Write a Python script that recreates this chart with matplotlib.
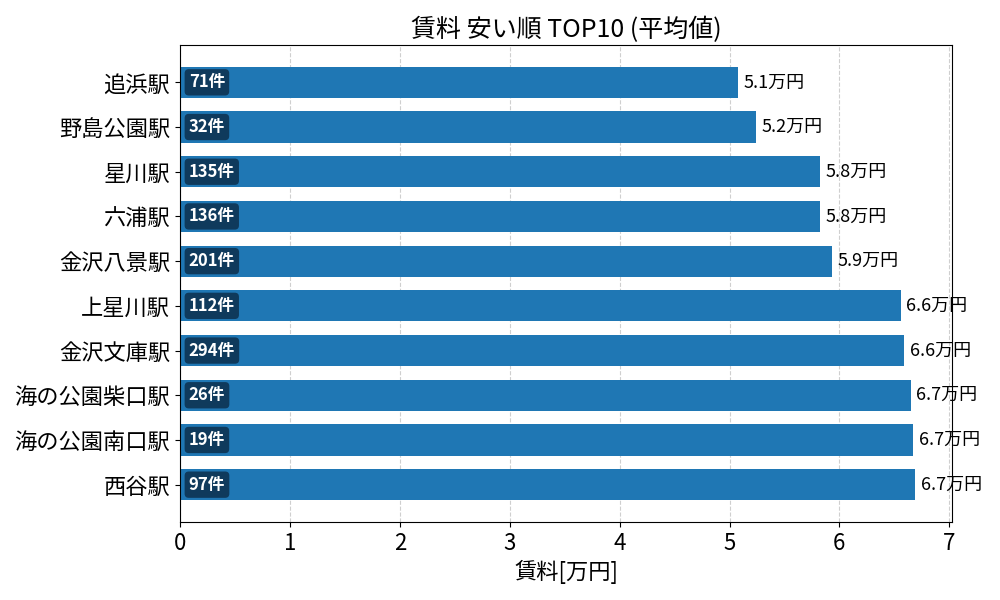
import numpy as np
import matplotlib.pyplot as plt

plt.rcParams['font.family'] = ['Noto Sans CJK JP', 'DejaVu Sans']

stations = ['追浜駅', '野島公園駅', '星川駅', '六浦駅', '金沢八景駅',
            '上星川駅', '金沢文庫駅', '海の公園柴口駅', '海の公園南口駅', '西谷駅']
rent = [5.08, 5.24, 5.82, 5.82, 5.93, 6.56, 6.59, 6.65, 6.67, 6.69]
counts = [71, 32, 135, 136, 201, 112, 294, 26, 19, 97]

fig, ax = plt.subplots(figsize=(10, 6), dpi=100)
y = np.arange(len(stations))
ax.barh(y, rent, height=0.7, color='#1f77b4', zorder=2)
ax.set_yticks(y)
ax.set_yticklabels(stations, fontsize=16)
ax.invert_yaxis()
ax.set_xlim(0, max(rent) * 1.05)
ax.tick_params(axis='x', labelsize=16)
ax.grid(axis='x', linestyle='--', alpha=0.6, zorder=0)

for i, (v, c) in enumerate(zip(rent, counts)):
    ax.text(v + 0.05, i, f'{v:.1f}万円', va='center', ha='left', fontsize=13)
    ax.text(0.08, i, f'{c}件', va='center', ha='left', fontsize=12,
            fontweight='bold', color='white', zorder=3,
            bbox=dict(boxstyle='round,pad=0.25', fc='#0f3a5c', ec='none'))

ax.set_xlabel('賃料[万円]', fontsize=16)
ax.set_title('賃料 安い順 TOP10 (平均値)', fontsize=18)
plt.subplots_adjust(left=0.18, right=0.952, top=0.925, bottom=0.13)
plt.savefig('out.png')
